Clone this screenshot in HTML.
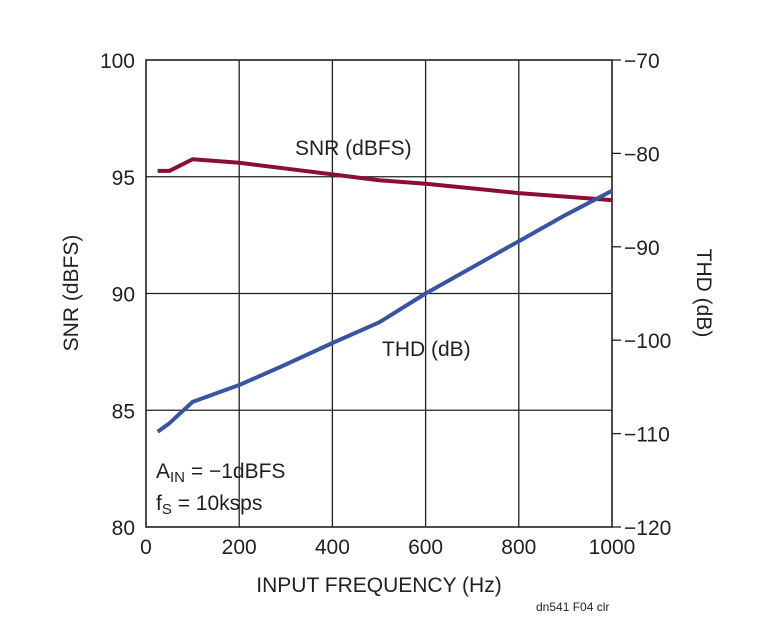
<!DOCTYPE html>
<html><head><meta charset="utf-8"><style>
html,body{margin:0;padding:0;background:#fff;}
svg text{font-family:"Liberation Sans Narrow","Liberation Sans",sans-serif;fill:#231f20;}
</style></head><body>
<svg id="chart" width="757" height="627" viewBox="0 0 757 627" xmlns="http://www.w3.org/2000/svg">
<g id="grid"></g>
<g id="series"></g>
<g id="labels"></g>
</svg>
<script>
const xTicks=[0,200,400,600,800,1000];
const leftTicks=[80,85,90,95,100];
const rightTicks=[-120,-110,-100,-90,-80,-70];
const snrFreq=[25,50,100,200,300,400,500,600,700,800,900,1000];
const snrVals=[95.25,95.25,95.75,95.6,95.35,95.1,94.85,94.7,94.5,94.3,94.15,94.0];
const thdFreq=[25,50,100,200,300,400,500,600,700,800,900,1000];
const thdVals=[-109.8,-108.9,-106.6,-104.8,-102.6,-100.3,-98.1,-95.0,-92.2,-89.4,-86.6,-84.0];

const L=146,R=612,T=60,B=527;
const sx=v=>L+(v-0)/1000*(R-L);
const syL=v=>B-(v-80)/20*(B-T);
const syR=v=>B-(v+120)/50*(B-T);
const NS='http://www.w3.org/2000/svg';
function mk(tag,attrs,parent,text){const e=document.createElementNS(NS,tag);for(const k in attrs)e.setAttribute(k,attrs[k]);if(text!==undefined)e.textContent=text;parent.appendChild(e);return e;}
const grid=document.getElementById('grid'),series=document.getElementById('series'),labels=document.getElementById('labels');

xTicks.forEach(t=>{
  const x=sx(t);
  if(t>0&&t<1000){const l=mk('line',{x1:x,y1:T,x2:x,y2:B,stroke:'#231f20','stroke-width':1.3},grid);
  
  }
  const tx=mk('text',{x:x,y:B+27,'text-anchor':'middle','font-size':21},labels,String(t));
  
  
});
leftTicks.forEach(t=>{
  const y=syL(t);
  if(t>80&&t<100){const l=mk('line',{x1:L,y1:y,x2:R,y2:y,stroke:'#231f20','stroke-width':1.3},grid);
  
  }
  const tx=mk('text',{x:L-11,y:y+8,'text-anchor':'end','font-size':21},labels,String(t));
  
  
});
rightTicks.forEach(t=>{
  const y=syR(t);
  const l=mk('line',{x1:R,y1:y,x2:R+9,y2:y,stroke:'#231f20','stroke-width':1.3},grid);
  
  
  const tx=mk('text',{x:R+12,y:y+8,'text-anchor':'start','font-size':21},labels,String(t).replace('-','\u2212'));
  
  
});
const frame=mk('rect',{x:L,y:T,width:R-L,height:B-T,fill:'none',stroke:'#231f20','stroke-width':1.6},grid);



const snrPts=snrFreq.map((f,i)=>sx(f)+','+syL(snrVals[i])).join(' ');
const snr=mk('polyline',{points:snrPts,fill:'none',stroke:'#8b0e35','stroke-width':4,'stroke-linejoin':'round'},series);


const thdPts=thdFreq.map((f,i)=>sx(f)+','+syR(thdVals[i])).join(' ');
const thd=mk('polyline',{points:thdPts,fill:'none',stroke:'#3a54a4','stroke-width':4,'stroke-linejoin':'round'},series);


</script>
<svg style="position:absolute;left:0;top:0" width="757" height="627">
<text x="295" y="155" font-size="21">SNR (dBFS)</text>
<text x="382" y="356" font-size="21">THD (dB)</text>
<text x="156" y="478" font-size="21">A<tspan font-size="15" dy="4">IN</tspan><tspan dy="-4"> = −1dBFS</tspan></text>
<text x="156" y="510" font-size="21">f<tspan font-size="15" dy="4">S</tspan><tspan dy="-4"> = 10ksps</tspan></text>
<text x="379" y="592" font-size="21" text-anchor="middle">INPUT FREQUENCY (Hz)</text>
<text transform="translate(78,293) rotate(-90)" font-size="21" text-anchor="middle">SNR (dBFS)</text>
<text transform="translate(697,293) rotate(90)" font-size="21" text-anchor="middle">THD (dB)</text>
<text x="536" y="611" font-size="12">dn541 F04 clr</text>
</svg>
</body></html>
